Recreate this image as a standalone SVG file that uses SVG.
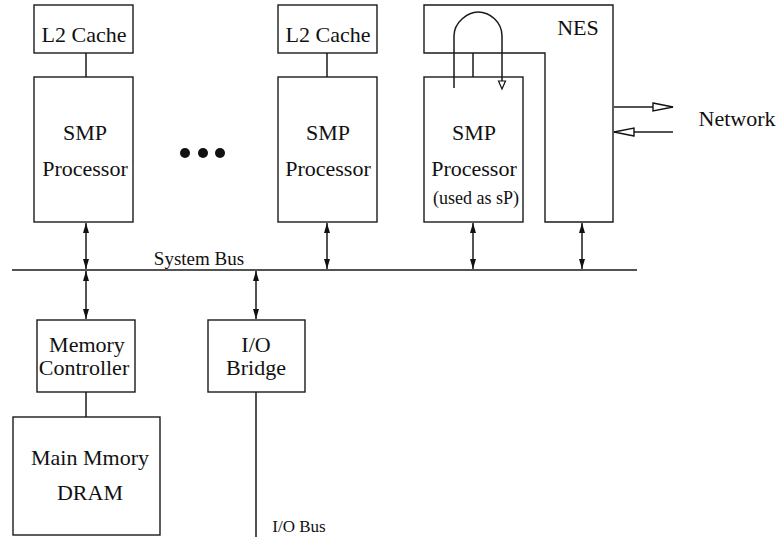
<svg xmlns="http://www.w3.org/2000/svg" width="777" height="537" viewBox="0 0 777 537">
<defs>
<style>
.box{fill:none;stroke:#1a1a1a;stroke-width:1.4}
.ln{fill:none;stroke:#1a1a1a;stroke-width:1.5}
.t{font-family:"Liberation Serif","DejaVu Serif","Times New Roman",serif;font-size:22px;fill:#111;text-anchor:middle}
.s{font-family:"Liberation Serif","DejaVu Serif","Times New Roman",serif;font-size:18px;fill:#111;text-anchor:middle}
</style>
<marker id="ah" viewBox="0 0 10 6" refX="10" refY="3" markerWidth="10" markerHeight="6" markerUnits="userSpaceOnUse" orient="auto-start-reverse">
<path d="M0,0 L10,3 L0,6 z" fill="#111"/>
</marker>
<marker id="oh" viewBox="0 0 22 10" refX="21" refY="5" markerWidth="22" markerHeight="10" markerUnits="userSpaceOnUse" orient="auto">
<path d="M1,1 L21,5 L1,9 z" fill="#fff" stroke="#111" stroke-width="1.4"/>
</marker>
</defs>
<rect width="777" height="537" fill="#fff"/>

<g id="l2cache1"><rect class="box" x="34" y="5" width="99" height="48"/><text class="t" x="84" y="42">L2 Cache</text></g>
<g id="smp1"><rect class="box" x="34" y="77" width="99" height="145"/><text class="t" x="85" y="140">SMP</text><text class="t" x="85" y="176">Processor</text></g>
<g id="dots"><circle cx="185" cy="153" r="5" fill="#111"/><circle cx="203" cy="153" r="5" fill="#111"/><circle cx="220" cy="153" r="5" fill="#111"/></g>
<g id="l2cache2"><rect class="box" x="278" y="5" width="99" height="48"/><text class="t" x="328" y="42">L2 Cache</text></g>
<g id="smp2"><rect class="box" x="278" y="77" width="99" height="145"/><text class="t" x="328" y="140">SMP</text><text class="t" x="328" y="176">Processor</text></g>
<g id="nes"><path class="box" d="M424,5 L613,5 L613,222 L545,222 L545,53 L424,53 Z"/><text class="t" x="578" y="35">NES</text></g>
<g id="sp"><rect class="box" x="424" y="77" width="99" height="145"/><text class="t" x="474" y="140">SMP</text><text class="t" x="474" y="176">Processor</text><text class="s" x="476" y="204">(used as sP)</text></g>
<g id="memctrl"><rect class="box" x="37" y="320" width="98" height="72"/><text class="t" x="87" y="352">Memory</text><text class="t" x="84" y="375">Controller</text></g>
<g id="mainmem"><rect class="box" x="13" y="417" width="147" height="118"/><text class="t" x="90" y="465">Main Mmory</text><text class="t" x="90" y="500">DRAM</text></g>
<g id="iobridge"><rect class="box" x="208" y="320" width="97" height="72"/><text class="t" x="256" y="352">I/O</text><text class="t" x="256" y="375">Bridge</text></g>
<g id="labels"><text class="s" x="199" y="265" style="font-size:19px">System Bus</text><text class="s" x="299" y="532" style="font-size:17px">I/O Bus</text><text class="t" x="737" y="126">Network</text></g>

<g id="connectors">
<line class="ln" x1="12" y1="270" x2="637" y2="270"/>
<line class="ln" x1="86" y1="53" x2="86" y2="77"/>
<line class="ln" x1="327" y1="53" x2="327" y2="77"/>
<line class="ln" x1="473" y1="53" x2="473" y2="77"/>
<line class="ln" x1="86" y1="392" x2="86" y2="417"/>
<line class="ln" x1="256" y1="392" x2="256" y2="537"/>
<line class="ln" x1="86" y1="223" x2="86" y2="269" marker-start="url(#ah)" marker-end="url(#ah)"/>
<line class="ln" x1="327" y1="223" x2="327" y2="269" marker-start="url(#ah)" marker-end="url(#ah)"/>
<line class="ln" x1="473" y1="223" x2="473" y2="269" marker-start="url(#ah)" marker-end="url(#ah)"/>
<line class="ln" x1="582" y1="223" x2="582" y2="269" marker-start="url(#ah)" marker-end="url(#ah)"/>
<line class="ln" x1="86" y1="271" x2="86" y2="319" marker-start="url(#ah)" marker-end="url(#ah)"/>
<line class="ln" x1="256" y1="271" x2="256" y2="319" marker-start="url(#ah)" marker-end="url(#ah)"/>
<line class="ln" x1="614" y1="107" x2="673" y2="107" marker-end="url(#oh)"/>
<line class="ln" x1="673" y1="132" x2="614" y2="132" marker-end="url(#oh)"/>
<path class="ln" d="M454,88 L454,36 C454,22 468,12 478,12 C490,12 502,22 502,36 L502,81"/>
<path d="M498.5,81 L505.5,81 L502,89 Z" fill="#fff" stroke="#111" stroke-width="1.2"/>
</g>
</svg>
